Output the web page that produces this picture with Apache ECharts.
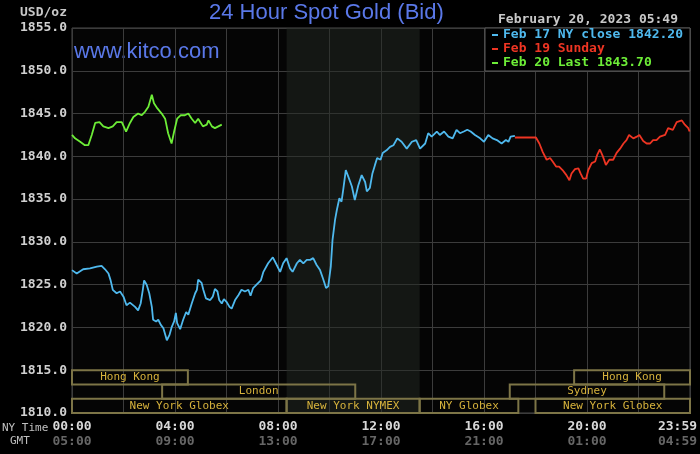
<!DOCTYPE html>
<html>
<head>
<meta charset="utf-8">
<script src="https://cdn.jsdelivr.net/npm/echarts@6/dist/echarts.min.js"></script>
<style>
  html, body { margin: 0; padding: 0; background: #000; }
  #chart { width: 700px; height: 454px; }
</style>
</head>
<body>
<div id="chart"></div>
<script>
// minutes after 00:00 NY time
const feb17Minutes = [0,11,26,42,58, 69,77,85,90,95, 104,112,120,127,135, 147,154,160,165,168,
  174,180,186,189,196, 201,207,213,217,221, 227,232,238,242,245, 252,259,266,271,279,
  287,291,294,302,306, 312,322,328,333,339, 343,349,354,360,367, 372,380,388,395,403,
  411,416,422,430,440, 446,457,468,475,485, 492,500,508,514,524, 531,539,547,555,562,
  570,578,585,592,597, 603,607,613,617,623, 628,632,638,644,652, 659,667,675,683,687,
  694,700,706,711,719, 724,733,741,749,758, 768,780,792,802,811, 823,830,838,850,857,
  867,877,887,896,904, 913,921,929,939,951, 960,970,980,990,1001, 1011,1017,1022,1032];
const feb17Values = [1826.7,1826.3,1826.8,1826.9,1827.1, 1827.2,1826.8,1826.3,1825.5,1824.4,
  1824.0,1824.2,1823.6,1822.6,1822.9, 1822.4,1822.0,1822.8,1824.4,1825.5,
  1825.0,1824.0,1822.4,1820.9,1820.7, 1820.9,1820.3,1819.9,1819.7,1818.5,
  1819.1,1820.0,1820.7,1821.7,1820.5, 1819.8,1820.9,1821.8,1821.5,1822.8,
  1824.0,1824.4,1825.6,1825.2,1824.4, 1823.4,1823.2,1823.6,1824.5,1824.2,
  1823.2,1822.8,1823.3,1823.0,1822.4, 1822.2,1823.2,1823.8,1824.4,1824.2,
  1824.4,1823.7,1824.6,1825.0,1825.5, 1826.5,1827.5,1828.2,1827.5,1826.5,
  1827.5,1828.1,1826.9,1826.5,1827.5, 1827.9,1827.5,1827.9,1827.9,1828.1,
  1827.3,1826.7,1825.7,1824.6,1824.8, 1827.1,1830.2,1832.6,1833.7,1835.1,
  1834.7,1836.1,1838.4,1837.6,1836.5, 1834.9,1836.6,1837.8,1837.0,1835.9,
  1836.3,1838.0,1839.0,1839.8,1839.6, 1840.4,1840.7,1841.1,1841.3,1842.1,
  1841.7,1840.9,1841.7,1841.9,1840.9, 1841.5,1842.7,1842.3,1842.9,1842.5,
  1842.9,1842.3,1842.1,1843.1,1842.7, 1842.9,1843.1,1842.9,1842.5,1842.1,
  1841.7,1842.5,1842.1,1841.9,1841.5, 1841.9,1841.7,1842.3,1842.4];

const feb19Minutes = [1032,1081,1089,1097,1106, 1114,1120,1128,1135,1143, 1152,1159,1164,1172,1180,
  1185,1191,1198,1203,1211, 1219,1224,1230,1237,1244, 1252,1261,1269,1277,1285,
  1292,1298,1308,1316,1322, 1331,1339,1347,1354,1362, 1370,1382,1389,1400,1409,
  1421,1428,1436,1439];
const feb19Values = [1842.2,1842.2,1841.5,1840.5,1839.6, 1839.8,1839.4,1838.8,1838.8,1838.4,
  1837.8,1837.2,1838.0,1838.5,1838.6, 1838.0,1837.4,1837.4,1838.4,1839.2,
  1839.4,1840.2,1840.8,1840.0,1839.0, 1839.6,1839.6,1840.4,1840.9,1841.5,
  1841.9,1842.5,1842.1,1842.3,1842.5, 1841.8,1841.5,1841.5,1841.9,1841.9,
  1842.3,1842.5,1843.3,1843.1,1844.0, 1844.2,1843.7,1843.3,1842.9];

const feb20Minutes = [0,7,19,30,38, 46,54,64,73,85, 95,104,116,126,135, 143,154,162,170,178,
  186,191,199,209,217, 224,232,238,245,253, 263,271,279,287,294, 305,314,318,326,333, 341,349];
const feb20Values = [1842.5,1842.1,1841.7,1841.3,1841.3, 1842.5,1843.9,1844.0,1843.5,1843.3,
  1843.5,1844.0,1844.0,1842.9,1843.9, 1844.6,1845.0,1844.8,1845.2,1845.8,
  1847.2,1846.2,1845.6,1845.0,1844.4, 1842.7,1841.5,1842.9,1844.4,1844.8,
  1844.8,1845.0,1844.4,1843.9,1844.4, 1843.5,1843.7,1844.2,1843.5,1843.3, 1843.5,1843.7];

const seriesNames = ['Feb 17 NY close 1842.20', 'Feb 19 Sunday', 'Feb 20 Last 1843.70'];

const nyTimeLabels = ['00:00','04:00','08:00','12:00','16:00','20:00','23:59'];
const gmtLabels    = ['05:00','09:00','13:00','17:00','21:00','01:00','04:59'];

// market sessions (minutes), row 0 = top
const sessionNames = ['Hong Kong','Hong Kong','London','Sydney','New York Globex','New York NYMEX','NY Globex','New York Globex'];
const sessionStart = [0, 1170, 210, 1020, 0, 500, 810, 1080];
const sessionEnd   = [270, 1440, 660, 1380, 500, 810, 1040, 1440];
const sessionRow   = [0, 0, 1, 1, 2, 2, 2, 2];

const nymexShade = [500, 810];

const MONO = '"DejaVu Sans Mono", monospace';
const BLUE = '#4fb9ee', RED = '#ee3523', GREEN = '#6ded37';
const pair = (ts, vs) => ts.map((t, i) => [t, vs[i]]);

const YMIN = 1810, YMAX = 1855, YSTEP = 5;
const rowH = YSTEP / 3;

const chart = echarts.init(document.getElementById('chart'));

chart.setOption({
  backgroundColor: '#000',
  animation: false,
  title: {
    text: '24 Hour Spot Gold (Bid)', left: 209, top: 2, padding: 0,
    textStyle: { color: '#5a78e8', fontFamily: '"Liberation Sans", Arial', fontSize: 22, fontWeight: 'normal' }
  },
  graphic: [
    { type: 'text', left: 74, top: 41, silent: true,
      style: { text: 'www.kitco.com', fill: '#5a78e8', font: '22px "Liberation Sans", Arial' } },
    { type: 'text', right: 633, top: 6, silent: true,
      style: { text: 'USD/oz', fill: '#c8c8c8', font: 'bold 13px ' + MONO } },
    { type: 'text', left: 498, top: 13, silent: true,
      style: { text: 'February 20, 2023 05:49', fill: '#c8c8c8', font: 'bold 13px ' + MONO } },
    { type: 'text', left: 2, top: 423, silent: true,
      style: { text: 'NY Time', fill: '#c0c0c0', font: '11px ' + MONO } },
    { type: 'text', left: 10, top: 436, silent: true,
      style: { text: 'GMT', fill: '#c0c0c0', font: '11px ' + MONO } }
  ],
  legend: {
    orient: 'vertical', left: 485, top: 28, padding: [0, 7, 1, 7],
    backgroundColor: '#000', borderColor: '#5a5a5a', borderWidth: 1,
    icon: 'rect', itemWidth: 6, itemHeight: 2, itemGap: 0, selectedMode: false,
    textStyle: { fontFamily: MONO, fontSize: 13, fontWeight: 'bold', lineHeight: 14 },
    data: [
      { name: seriesNames[0], textStyle: { color: BLUE } },
      { name: seriesNames[1], textStyle: { color: RED } },
      { name: seriesNames[2], textStyle: { color: GREEN } }
    ]
  },
  grid: {
    left: 72, right: 10, top: 28, bottom: 41,
    containLabel: false, outerBoundsMode: 'none',
    show: true, backgroundColor: '#050505', borderColor: '#4a4a4a', borderWidth: 1
  },
  xAxis: {
    type: 'value', min: 0, max: 1440, interval: 120,
    axisLine: { show: false }, axisTick: { show: false },
    splitLine: { lineStyle: { color: '#3c3c3c', width: 1 } },
    axisLabel: {
      margin: 6,
      formatter: v => {
        if (v % 240 !== 0) return '';
        const i = v / 240;
        if (i === nyTimeLabels.length - 1) return '{tl|' + nyTimeLabels[i] + '}\n{gl|' + gmtLabels[i] + '}';
        return '{t|' + nyTimeLabels[i] + '}\n{g|' + gmtLabels[i] + '}';
      },
      rich: {
        t:  { color: '#d8d8d8', fontFamily: MONO, fontSize: 13, fontWeight: 'bold', lineHeight: 15 },
        g:  { color: '#666', fontFamily: MONO, fontSize: 13, fontWeight: 'bold', lineHeight: 15 },
        tl: { color: '#d8d8d8', fontFamily: MONO, fontSize: 13, fontWeight: 'bold', lineHeight: 15, padding: [0, 25, 0, 0] },
        gl: { color: '#666', fontFamily: MONO, fontSize: 13, fontWeight: 'bold', lineHeight: 15, padding: [0, 25, 0, 0] }
      }
    }
  },
  yAxis: {
    type: 'value', min: YMIN, max: YMAX, interval: YSTEP,
    axisLine: { show: false }, axisTick: { show: false },
    splitLine: { lineStyle: { color: '#3c3c3c', width: 1 } },
    axisLabel: {
      margin: 5, color: '#d0d0d0', fontFamily: MONO, fontSize: 13, fontWeight: 'bold',
      formatter: v => v.toFixed(1)
    }
  },
  series: [
    {
      type: 'line', name: 'nymex', data: [], z: 1, silent: true,
      markArea: {
        silent: true,
        itemStyle: { color: 'rgba(36,42,36,0.5)' },
        data: [[{ xAxis: nymexShade[0] }, { xAxis: nymexShade[1] }]]
      }
    },
    {
      type: 'line', name: seriesNames[0], data: pair(feb17Minutes, feb17Values),
      showSymbol: false, z: 3, color: BLUE, lineStyle: { color: BLUE, width: 1.8 }
    },
    {
      type: 'line', name: seriesNames[1], data: pair(feb19Minutes, feb19Values),
      showSymbol: false, z: 3, color: RED, lineStyle: { color: RED, width: 1.8 }
    },
    {
      type: 'line', name: seriesNames[2], data: pair(feb20Minutes, feb20Values),
      showSymbol: false, z: 3, color: GREEN, lineStyle: { color: GREEN, width: 1.8 }
    },
    {
      type: 'custom', name: 'sessions', silent: true, z: 4,
      data: sessionNames.map((n, i) => [
        sessionStart[i], sessionEnd[i],
        YMIN + (3 - sessionRow[i]) * rowH, YMIN + (2 - sessionRow[i]) * rowH
      ]),
      renderItem: (params, api) => {
        const p0 = api.coord([api.value(0), api.value(2)]);
        const p1 = api.coord([api.value(1), api.value(3)]);
        return {
          type: 'group',
          children: [
            { type: 'rect',
              shape: { x: p0[0], y: p0[1], width: p1[0] - p0[0], height: p1[1] - p0[1] },
              style: { fill: 'none', stroke: '#7d7547', lineWidth: 2 } },
            { type: 'text',
              style: { text: sessionNames[params.dataIndex], x: (p0[0] + p1[0]) / 2, y: (p0[1] + p1[1]) / 2,
                       align: 'center', verticalAlign: 'middle', fill: '#d6b23c', font: '11px ' + MONO } }
          ]
        };
      }
    }
  ]
});
</script>
</body>
</html>
